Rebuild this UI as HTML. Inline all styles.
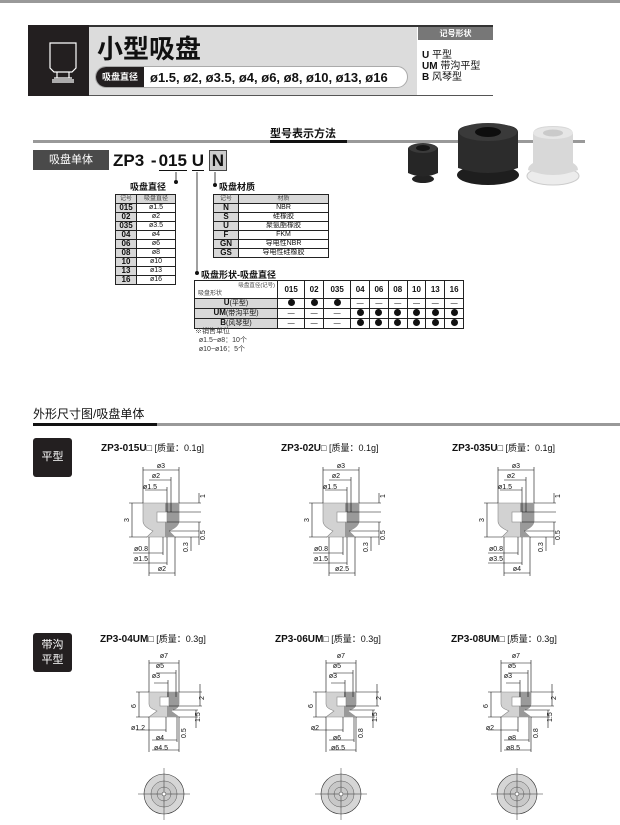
<!DOCTYPE html>
<html><head><meta charset="utf-8">
<style>
*{margin:0;padding:0;box-sizing:border-box}
body{width:620px;height:825px;background:#fff;position:relative;overflow:hidden;font-family:"Liberation Sans","Noto Sans CJK SC",sans-serif;color:#111}
.a{position:absolute}
table{border-collapse:collapse;position:absolute;font-size:7px;text-align:center}
td{border:1px solid #222;height:9px;line-height:8px;padding:0}
.h td{background:#d8d8d8;color:#444;font-size:6px}
td.k{background:#d8d8d8;font-weight:bold;font-size:8px}
.t3 td{height:8.5px}
.dot{display:inline-block;width:7px;height:7px;border-radius:50%;background:#111;vertical-align:middle}
</style></head><body>
<div class="a" style="left:0;top:0;width:620px;height:3px;background:#999"></div>
<!-- header -->
<div class="a" style="left:28px;top:25px;width:61px;height:71px;background:#231f20"></div>
<svg class="a" style="left:28px;top:25px" width="61" height="71"><path d="M22,18 H48 V43 L44,47 H26 L22,43 Z" fill="none" stroke="#fff" stroke-width="1.2"/><path d="M29,47 V53 M41,47 V53 M26,53 H44 M24,55 H46 M24,57 H46" stroke="#fff" stroke-width="1.2" fill="none"/></svg>
<div class="a" style="left:89px;top:25px;width:328px;height:71px;background:#dcdcdc;border-top:2px solid #333;border-bottom:1px solid #555"></div>
<div class="a" style="left:97px;top:35px;font-size:26px;font-weight:bold;line-height:29px">小型吸盘</div>
<div class="a" style="left:95px;top:66px;width:313px;height:22px;border-radius:11px;background:#fff;border:1px solid #aaa;overflow:hidden">
<div class="a" style="left:0;top:0;width:48px;height:22px;background:#231f20;color:#fff;font-size:9px;font-weight:bold;line-height:20px;padding-left:6px">吸盘直径</div>
<div class="a" style="left:54px;top:1px;font-size:13px;font-weight:bold;line-height:19px;white-space:nowrap">ø1.5, ø2, ø3.5, ø4, ø6, ø8, ø10, ø13, ø16</div></div>
<div class="a" style="left:417px;top:25px;width:76px;height:71px;border-top:2px solid #333;border-bottom:1px solid #555"></div>
<div class="a" style="left:418px;top:27px;width:75px;height:13px;background:#777;color:#fff;font-size:8px;font-weight:bold;text-align:center;line-height:13px">记号形状</div>
<div class="a" style="left:422px;top:50px;font-size:10px;font-weight:bold;line-height:11px">U <span style="font-weight:normal">平型</span><br>UM <span style="font-weight:normal">带沟平型</span><br>B <span style="font-weight:normal">风琴型</span></div>
<!-- section 1 -->
<div class="a" style="left:33px;top:140px;width:552px;height:3px;background:#999"></div>
<div class="a" style="left:270px;top:125px;font-size:11px;font-weight:bold">型号表示方法</div>
<div class="a" style="left:270px;top:140px;width:77px;height:3px;background:#111"></div>
<!-- photos -->
<svg class="a" style="left:398px;top:118px" width="190" height="75">
<ellipse cx="25" cy="61" rx="11" ry="4" fill="#222"/><path d="M10,31 Q10,26 25,26 Q40,26 40,31 V55 Q25,62 10,55 Z" fill="#262626"/><ellipse cx="25" cy="30" rx="14" ry="5" fill="#3a3a3a"/><ellipse cx="25" cy="30" rx="7" ry="3" fill="#151515"/>
<ellipse cx="90" cy="57" rx="31" ry="10" fill="#1e1e1e"/><path d="M60,14 Q60,6 90,6 Q120,6 120,14 V50 Q90,60 60,50 Z" fill="#2c2c2c"/><ellipse cx="90" cy="14" rx="29" ry="9" fill="#3a3a3a"/><ellipse cx="90" cy="14" rx="13" ry="5" fill="#0e0e0e"/>
<ellipse cx="155" cy="58" rx="26" ry="9" fill="#ececec" stroke="#ccc"/><path d="M135,16 Q135,8 155,8 Q175,8 175,16 V45 Q180,48 180,52 Q155,62 130,52 Q130,48 135,45 Z" fill="#d8d8d8"/><ellipse cx="155" cy="15" rx="20" ry="6" fill="#e6e6e6"/><ellipse cx="155" cy="15" rx="10" ry="3.5" fill="#cacaca"/></svg>
<div class="a" style="left:33px;top:150px;width:76px;height:20px;background:#4a4a4a;color:#fff;font-size:11px;line-height:20px;text-align:center">吸盘单体</div>
<div class="a" style="left:113px;top:151px;font-size:17px;font-weight:bold;line-height:20px;white-space:nowrap">ZP3<span style="letter-spacing:2px"> -</span><span style="border-bottom:1.5px solid #111">015</span> <span style="border-bottom:1.5px solid #111">U</span> <span style="background:#ccc;border:1px solid #444;padding:0 2px">N</span></div>
<svg class="a" style="left:0;top:0" width="620" height="400" fill="none" stroke="#111" stroke-width="0.8">
<path d="M176,172 V180"/><circle cx="176" cy="182" r="1.6" fill="#111"/>
<path d="M197,172 V272"/><circle cx="197" cy="273" r="1.6" fill="#111"/>
<path d="M215,172 V183"/><circle cx="215" cy="185" r="1.6" fill="#111"/>
<path d="M196,288 L277,297" stroke-width="0.5"/></svg>
<div class="a" style="left:130px;top:180px;font-size:9px;font-weight:bold">吸盘直径</div>
<div class="a" style="left:219px;top:180px;font-size:9px;font-weight:bold">吸盘材质</div>
<div class="a" style="left:201px;top:268px;font-size:9px;font-weight:bold">吸盘形状-吸盘直径</div>
<table style="left:115px;top:194px;width:61px"><tr class="h"><td style="width:21px">记号</td><td>吸盘直径</td></tr>
<tr><td class="k">015</td><td>ø1.5</td></tr><tr><td class="k">02</td><td>ø2</td></tr><tr><td class="k">035</td><td>ø3.5</td></tr><tr><td class="k">04</td><td>ø4</td></tr><tr><td class="k">06</td><td>ø6</td></tr><tr><td class="k">08</td><td>ø8</td></tr><tr><td class="k">10</td><td>ø10</td></tr><tr><td class="k">13</td><td>ø13</td></tr><tr><td class="k">16</td><td>ø16</td></tr></table>
<table style="left:213px;top:194px;width:116px"><tr class="h"><td style="width:25px">记号</td><td>材质</td></tr>
<tr><td class="k">N</td><td>NBR</td></tr><tr><td class="k">S</td><td>硅橡胶</td></tr><tr><td class="k">U</td><td>聚氨酯橡胶</td></tr><tr><td class="k">F</td><td>FKM</td></tr><tr><td class="k">GN</td><td>导电性NBR</td></tr><tr><td class="k">GS</td><td>导电性硅橡胶</td></tr></table>
<table class="t3" style="left:194px;top:280px;width:270px;font-size:7px">
<tr><td style="width:83px;height:18px;text-align:left;font-size:5.5px;line-height:8px;background:#fff;color:#444"><div style="text-align:right;padding-right:2px">吸盘直径(记号)</div><div style="padding-left:3px;font-size:6px">吸盘形状</div></td>
<td style="font-weight:bold;font-size:8px">015</td><td style="font-weight:bold;font-size:8px">02</td><td style="font-weight:bold;font-size:8px">035</td><td style="font-weight:bold;font-size:8px">04</td><td style="font-weight:bold;font-size:8px">06</td><td style="font-weight:bold;font-size:8px">08</td><td style="font-weight:bold;font-size:8px">10</td><td style="font-weight:bold;font-size:8px">13</td><td style="font-weight:bold;font-size:8px">16</td></tr>
<tr><td style="background:#d8d8d8"><b style="font-size:8px">U</b>(平型)</td><td><i class="dot"></i></td><td><i class="dot"></i></td><td><i class="dot"></i></td><td>—</td><td>—</td><td>—</td><td>—</td><td>—</td><td>—</td></tr>
<tr><td style="background:#d8d8d8"><b style="font-size:8px">UM</b>(带沟平型)</td><td>—</td><td>—</td><td>—</td><td><i class="dot"></i></td><td><i class="dot"></i></td><td><i class="dot"></i></td><td><i class="dot"></i></td><td><i class="dot"></i></td><td><i class="dot"></i></td></tr>
<tr><td style="background:#d8d8d8"><b style="font-size:8px">B</b>(风琴型)</td><td>—</td><td>—</td><td>—</td><td><i class="dot"></i></td><td><i class="dot"></i></td><td><i class="dot"></i></td><td><i class="dot"></i></td><td><i class="dot"></i></td><td><i class="dot"></i></td></tr></table>
<div class="a" style="left:195px;top:327px;font-size:7px;line-height:9px;color:#333">※销售单位<br>&nbsp;&nbsp;ø1.5~ø8：10个<br>&nbsp;&nbsp;ø10~ø16：5个</div>
<!-- section 2 -->
<div class="a" style="left:33px;top:407px;font-size:12px;line-height:14px">外形尺寸图/吸盘单体</div>
<div class="a" style="left:33px;top:423px;width:587px;height:3px;background:#999"></div>
<div class="a" style="left:33px;top:423px;width:124px;height:3px;background:#111"></div>
<div class="a" style="left:33px;top:438px;width:39px;height:39px;background:#231f20;border-radius:3px;color:#fff;font-size:11px;text-align:center;line-height:39px">平型</div>
<div class="a" style="left:33px;top:633px;width:39px;height:39px;background:#231f20;border-radius:3px;color:#fff;font-size:11px;text-align:center;line-height:15px;padding-top:5px">带沟<br>平型</div>
<div class="a" style="left:101px;top:441px;font-size:9px;white-space:nowrap"><b style="font-size:10px">ZP3-015U</b>□ [质量：0.1g]</div>
<div class="a" style="left:281px;top:441px;font-size:9px;white-space:nowrap"><b style="font-size:10px">ZP3-02U</b>□ [质量：0.1g]</div>
<div class="a" style="left:452px;top:441px;font-size:9px;white-space:nowrap"><b style="font-size:10px">ZP3-035U</b>□ [质量：0.1g]</div>
<div class="a" style="left:100px;top:632px;font-size:9px;white-space:nowrap"><b style="font-size:10px">ZP3-04UM</b>□ [质量：0.3g]</div>
<div class="a" style="left:275px;top:632px;font-size:9px;white-space:nowrap"><b style="font-size:10px">ZP3-06UM</b>□ [质量：0.3g]</div>
<div class="a" style="left:451px;top:632px;font-size:9px;white-space:nowrap"><b style="font-size:10px">ZP3-08UM</b>□ [质量：0.3g]</div>
<svg class="a" style="left:0;top:0" width="620" height="825" font-family="Liberation Sans,sans-serif" font-size="7" fill="#111">
<defs>
<g id="d1" stroke="#111" stroke-width="0.6">
<path d="M-18,0 H18 V18 Q18,23 10,27 L8,28 L14,34 H-14 L-8,28 L-10,27 Q-18,23 -18,18 Z" fill="#d2d2d2" stroke="#888"/>
<path d="M4,0 H18 V18 Q18,23 10,27 L8,28 L14,34 H4 Z" fill="#9a9a9a" stroke="none"/>
<rect x="-4" y="9" width="10" height="10" fill="#fff" stroke="#888"/>
<path d="M-32,0 H-18 M-32,34 H-14 M-29,0 V34 M18,0 H40 M6,9 H40 M6,19 H40 M14,34 H38 M8,28 H38 M38,-10 V0 M38,19 V42 M30,34 V48 M-18,-36 V0 M18,-36 V0 M-18,-33 H18 M-12,-23 H10 M10,-26 V9 M-16,-13 H6 M6,-16 V9 M-28,50 H2 M2,34 V52 M-28,60 H6 M6,34 V62 M-12,70 H14 M-12,34 V73 M14,34 V73" fill="none"/>
</g>
<g id="d2" stroke="#111" stroke-width="0.6">
<path d="M-15,0 H15 V12 Q15,16 9,18 L7,19 L15,25 H-15 L-7,19 L-9,18 Q-15,16 -15,12 Z" fill="#d2d2d2" stroke="#888"/>
<path d="M3,0 H15 V12 Q15,16 9,18 L7,19 L15,25 H3 Z" fill="#9a9a9a" stroke="none"/>
<rect x="-4" y="5" width="9" height="9" fill="#fff" stroke="#888"/>
<path d="M-28,0 H-15 M-28,25 H-15 M-25,0 V25 M15,0 H38 M5,14 H38 M9,18 H34 M15,25 H34 M36,-8 V14 M32,18 V36 M-15,-32 V0 M15,-32 V0 M-15,-29 H15 M-8,-19 H12 M12,-22 V5 M-10,-9 H4 M4,-12 V5 M-28,38 H2 M2,25 V40 M-12,48 H13 M-12,58 H15 M-15,25 V60 M15,25 V60 M13,25 V50" fill="none"/>
</g>
<g id="c1"><circle r="20" fill="#d6d6d6" stroke="#333" stroke-width="0.6"/><circle r="13" fill="#c8c8c8" stroke="#555" stroke-width="0.5"/><circle r="7" fill="none" stroke="#555" stroke-width="0.5"/><path d="M-26,0 H26 M0,-26 V26" stroke="#333" stroke-width="0.5"/><circle r="2" fill="#fff" stroke="#333" stroke-width="0.5"/></g>
</defs>
<use href="#d1" x="161" y="503"/><use href="#d1" x="341" y="503"/><use href="#d1" x="516" y="503"/>
<g text-anchor="middle">
<text x="161" y="468">ø3</text><text x="156" y="478">ø2</text><text x="150" y="489">ø1.5</text><text x="141" y="551">ø0.8</text><text x="141" y="561">ø1.5</text><text x="162" y="571">ø2</text>
<text x="341" y="468">ø3</text><text x="336" y="478">ø2</text><text x="330" y="489">ø1.5</text><text x="321" y="551">ø0.8</text><text x="321" y="561">ø1.5</text><text x="342" y="571">ø2.5</text>
<text x="516" y="468">ø3</text><text x="511" y="478">ø2</text><text x="505" y="489">ø1.5</text><text x="496" y="551">ø0.8</text><text x="496" y="561">ø3.5</text><text x="517" y="571">ø4</text>
<text x="164" y="658">ø7</text><text x="160" y="668">ø5</text><text x="156" y="678">ø3</text><text x="138" y="730">ø1.2</text><text x="160" y="740">ø4</text><text x="161" y="750">ø4.5</text>
<text x="341" y="658">ø7</text><text x="337" y="668">ø5</text><text x="333" y="678">ø3</text><text x="315" y="730">ø2</text><text x="337" y="740">ø6</text><text x="338" y="750">ø6.5</text>
<text x="516" y="658">ø7</text><text x="512" y="668">ø5</text><text x="508" y="678">ø3</text><text x="490" y="730">ø2</text><text x="512" y="740">ø8</text><text x="513" y="750">ø8.5</text>
</g>
<g>
<text transform="translate(129,522) rotate(-90)">3</text><text transform="translate(205,498) rotate(-90)">1</text><text transform="translate(205,540) rotate(-90)">0.5</text><text transform="translate(188,552) rotate(-90)">0.3</text>
<text transform="translate(309,522) rotate(-90)">3</text><text transform="translate(385,498) rotate(-90)">1</text><text transform="translate(385,540) rotate(-90)">0.5</text><text transform="translate(368,552) rotate(-90)">0.3</text>
<text transform="translate(484,522) rotate(-90)">3</text><text transform="translate(560,498) rotate(-90)">1</text><text transform="translate(560,540) rotate(-90)">0.5</text><text transform="translate(543,552) rotate(-90)">0.3</text>
</g>
<use href="#d2" x="164" y="692"/><use href="#d2" x="341" y="692"/><use href="#d2" x="516" y="692"/>
<g>
<text transform="translate(136,708) rotate(-90)">6</text><text transform="translate(204,700) rotate(-90)">2</text><text transform="translate(200,722) rotate(-90)">1.5</text><text transform="translate(186,738) rotate(-90)">0.5</text>
<text transform="translate(313,708) rotate(-90)">6</text><text transform="translate(381,700) rotate(-90)">2</text><text transform="translate(377,722) rotate(-90)">1.5</text><text transform="translate(363,738) rotate(-90)">0.8</text>
<text transform="translate(488,708) rotate(-90)">6</text><text transform="translate(556,700) rotate(-90)">2</text><text transform="translate(552,722) rotate(-90)">1.5</text><text transform="translate(538,738) rotate(-90)">0.8</text>
</g>
<use href="#c1" x="164" y="794"/><use href="#c1" x="341" y="794"/><use href="#c1" x="517" y="794"/>
</svg>
</body></html>
